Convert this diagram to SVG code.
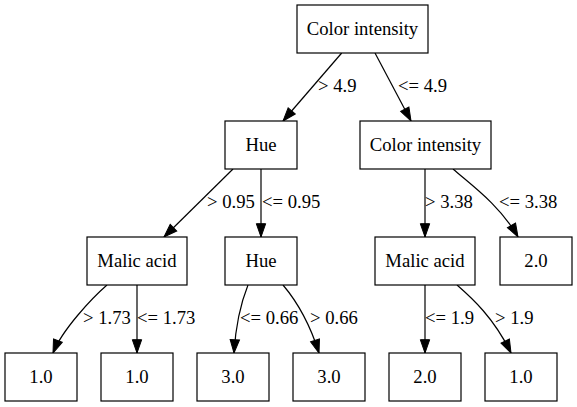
<svg xmlns="http://www.w3.org/2000/svg" width="577" height="407" viewBox="0 0 577 407">
<style>
.n rect{fill:#fff;stroke:#000;stroke-width:1.2}
text{font-family:"Liberation Serif","Times New Roman",serif;font-size:18.67px;fill:#000}
.n text{text-anchor:middle}
.e path{fill:none;stroke:#000;stroke-width:1.2;marker-end:url(#ah)}
</style>
<defs>
<marker id="ah" markerUnits="userSpaceOnUse" markerWidth="14" markerHeight="10" refX="13.3" refY="4.67" orient="auto" overflow="visible">
<polygon points="0,0 13.3,4.67 0,9.33" fill="#000" stroke="#000" stroke-width="1"/>
</marker>
</defs>
<rect width="577" height="407" fill="#fff"/>
<g id="connectors" class="e">
<path d="M341.7,53 L283,121"/>
<path d="M375,53 L411,121"/>
<path d="M233,169 L164,237"/>
<path d="M261,169 L261,237"/>
<path d="M425,169 L425,237"/>
<path d="M453,169 C470,184 500,205 518,237"/>
<path d="M107,285 C92,298 62,330 53,353"/>
<path d="M137,285 L137,353"/>
<path d="M248,285 C242,300 236,320 234,353"/>
<path d="M283,285 C294,298 308,318 319,353"/>
<path d="M425,285 L425,353"/>
<path d="M457,285 C472,298 494,318 511,353"/>
</g>
<g id="labels">
<text x="318" y="92">&gt; 4.9</text>
<text x="398" y="92">&lt;= 4.9</text>
<text x="207" y="208">&gt; 0.95</text>
<text x="262" y="208">&lt;= 0.95</text>
<text x="425" y="208">&gt; 3.38</text>
<text x="499" y="208">&lt;= 3.38</text>
<text x="83" y="324">&gt; 1.73</text>
<text x="137" y="324">&lt;= 1.73</text>
<text x="240" y="324">&lt;= 0.66</text>
<text x="310" y="324">&gt; 0.66</text>
<text x="425" y="324">&lt;= 1.9</text>
<text x="495" y="324">&gt; 1.9</text>
</g>
<g id="n0" class="n"><rect x="297" y="5" width="131" height="48"/><text x="362.5" y="35">Color intensity</text></g>
<g id="n1" class="n"><rect x="225" y="121" width="72" height="48"/><text x="261" y="151">Hue</text></g>
<g id="n2" class="n"><rect x="360" y="121" width="131" height="48"/><text x="425.5" y="151">Color intensity</text></g>
<g id="n3" class="n"><rect x="87" y="237" width="100" height="48"/><text x="137" y="267">Malic acid</text></g>
<g id="n4" class="n"><rect x="225" y="237" width="72" height="48"/><text x="261" y="267">Hue</text></g>
<g id="n5" class="n"><rect x="375" y="237" width="100" height="48"/><text x="425" y="267">Malic acid</text></g>
<g id="n6" class="n"><rect x="500" y="237" width="72" height="48"/><text x="536" y="267">2.0</text></g>
<g id="n7" class="n"><rect x="5" y="353" width="72" height="48"/><text x="41" y="383">1.0</text></g>
<g id="n8" class="n"><rect x="101" y="353" width="72" height="48"/><text x="137" y="383">1.0</text></g>
<g id="n9" class="n"><rect x="197" y="353" width="72" height="48"/><text x="233" y="383">3.0</text></g>
<g id="n10" class="n"><rect x="293" y="353" width="72" height="48"/><text x="329" y="383">3.0</text></g>
<g id="n11" class="n"><rect x="389" y="353" width="72" height="48"/><text x="425" y="383">2.0</text></g>
<g id="n12" class="n"><rect x="485" y="353" width="72" height="48"/><text x="521" y="383">1.0</text></g>
</svg>
